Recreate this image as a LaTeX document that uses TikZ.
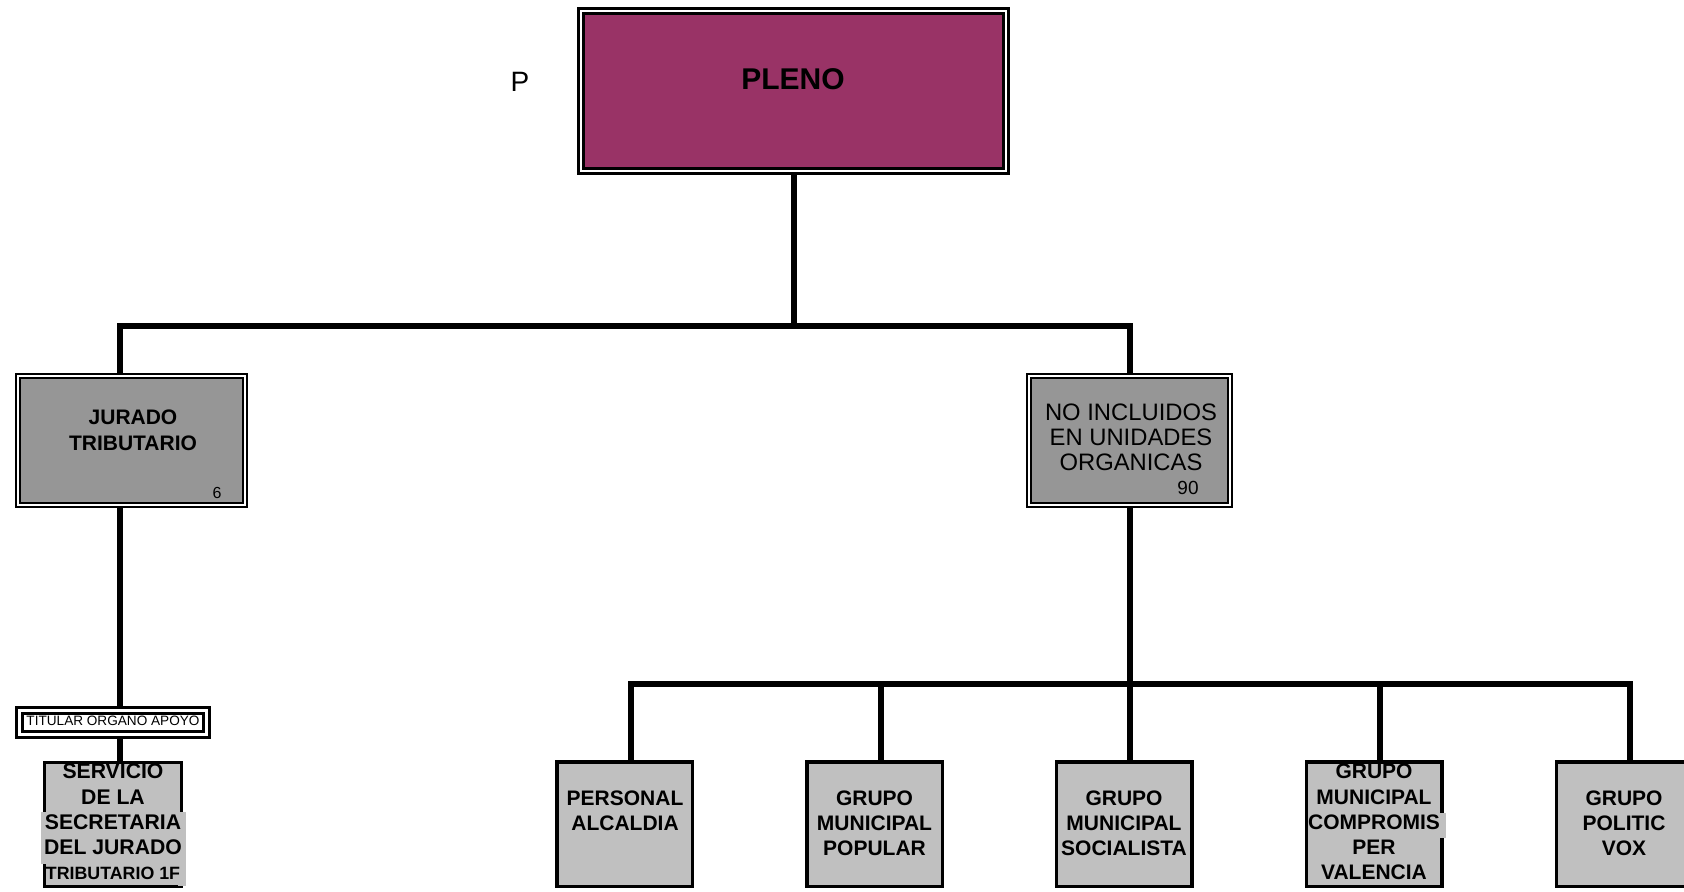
\documentclass[tikz,border=0pt]{standalone}
\usepackage{fontspec}
\setmainfont{Liberation Sans}
\usetikzlibrary{backgrounds}
\definecolor{plenofill}{HTML}{993366}
\definecolor{midgray}{HTML}{969696}
\definecolor{litegray}{HTML}{C0C0C0}
\tikzset{
  conn/.style={line width=3pt, line join=miter},
  plenobox/.style={draw, fill=plenofill, line width=1.5pt, double=white, double distance=1pt,
    minimum width=212.5pt, minimum height=80pt, inner sep=0pt},
  unitbox/.style={draw, fill=midgray, line width=1.1pt, double=white, double distance=0.8pt,
    minimum height=64.5pt, inner sep=0pt},
  titbox/.style={draw, fill=white, line width=1.4pt, double=white, double distance=1.5pt,
    minimum width=93.7pt, minimum height=12.2pt, inner sep=0pt},
  servbox/.style={draw, fill=litegray, line width=1.5pt, minimum width=68.5pt, minimum height=62pt, inner sep=0pt},
  grpbox/.style={draw, fill=litegray, line width=1.75pt, minimum width=67.75pt, minimum height=62.25pt, inner sep=0pt},
  grptext/.style={inner sep=0pt, align=center, font=\bfseries\fontsize{10.5}{12.6}\selectfont},
  plain/.style={inner sep=0pt}
}
\begin{document}
\begin{tikzpicture}[x=0.5pt,y=-0.5pt]
\useasboundingbox (0,0) rectangle (1684,892);
\clip (0,0) rectangle (1684,892);
% boxes
\node[plenobox] (pleno) at (793.5,91) {};
\node[unitbox, minimum width=113.5pt] (jur) at (131.5,440.5) {};
\node[unitbox, minimum width=100.5pt] (noinc) at (1129.5,440.5) {};
\node[titbox] (tit) at (113,722.5) {};
\node[servbox] (serv) at (113,824.5) {};
\node[grpbox] (pers) at (624.5,824) {};
\node[grpbox] (pop) at (874.5,824) {};
\node[grpbox] (soc) at (1124,824) {};
\node[grpbox] (comp) at (1374,824) {};
\node[grpbox] (vox) at (1624,824) {};
% text backgrounds overlapping borders
\fill[litegray] (41,812) rectangle (186,864);
\fill[litegray] (178,864) rectangle (186,886);
\fill[litegray] (1437,813) rectangle (1446,838);
% connectors
\coordinate (jl) at (120,326);
\coordinate (jr) at (1130,326);
\coordinate (bl) at (631,684);
\coordinate (bp) at (881,684);
\coordinate (bc) at (1380,684);
\coordinate (br) at (1630,684);
\begin{scope}[on background layer]
\draw[conn] (pleno.south) -- (pleno.south |- jl);
\draw[conn] (jur.north -| jl) -- (jl) -- (jr) -- (noinc.north -| jr);
\draw[conn] (jur.south -| jl) -- (tit.north -| jl);
\draw[conn] (tit.south -| jl) -- (serv.north -| jl);
\draw[conn] (noinc.south -| jr) -- (soc.north -| jr);
\draw[conn] (pers.north -| bl) -- (bl) -- (br) -- (vox.north -| br);
\draw[conn] (bp) -- (pop.north -| bp);
\draw[conn] (bc) -- (comp.north -| bc);
\end{scope}
% texts
\node[plain, font=\fontsize{14}{16}\selectfont, anchor=base] (ptxt) at (520,92) {P};
\node[plain, font=\bfseries\fontsize{15}{18}\selectfont, anchor=base] (plenotxt) at (793,90) {PLENO};
\node[plain, align=center, font=\bfseries\fontsize{10.5}{13}\selectfont] (jurtxt) at (133,430) {JURADO\\TRIBUTARIO};
\node[plain, font=\fontsize{8}{9}\selectfont, anchor=base] (jurnum) at (217,498.5) {6};
\node[plain, align=center, font=\fontsize{11.9}{12.5}\selectfont] (noinctxt) at (1131,437) {NO INCLUIDOS\\EN UNIDADES\\ORGANICAS};
\node[plain, font=\fontsize{9.5}{11}\selectfont, anchor=base] (noincnum) at (1188,494.5) {90};
\node[plain, font=\fontsize{6.8}{8}\selectfont, anchor=base] (tittxt) at (113,725.8) {TITULAR ÓRGANO APOYO};
\node[plain, align=center, font=\bfseries\fontsize{10.6}{12.63}\selectfont] (servtxt) at (113,822) {SERVICIO\\DE LA\\SECRETARIA\\DEL JURADO\\{\fontsize{8.9}{12.63}\selectfont TRIBUTARIO 1F}};
\node[grptext] (perstxt) at (625,810.5) {PERSONAL\\ALCALDIA};
\node[grptext] (poptxt) at (874.5,823) {GRUPO\\MUNICIPAL\\POPULAR};
\node[grptext] (soctxt) at (1124,823) {GRUPO\\MUNICIPAL\\SOCIALISTA};
\node[grptext] (comptxt) at (1374,822) {GRUPO\\MUNICIPAL\\COMPROMIS\\PER\\VALENCIA};
\node[grptext] (voxtxt) at (1624,823) {GRUPO\\POLITIC\\VOX};
\end{tikzpicture}
\end{document}
